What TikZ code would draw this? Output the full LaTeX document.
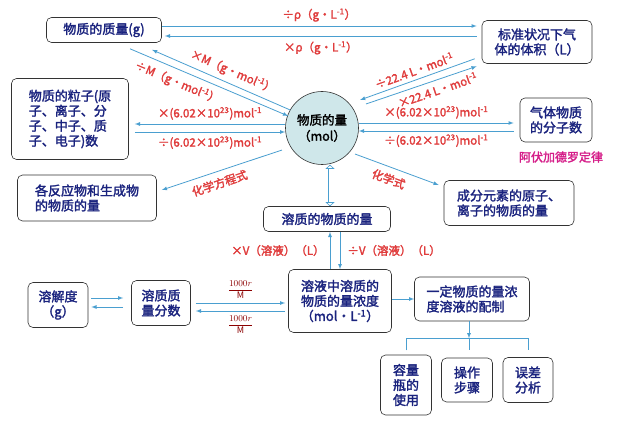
\documentclass[tikz,border=0pt]{standalone}
\usepackage{fontspec}
\setmainfont{Noto Sans CJK SC}[AutoFakeBold=2]
\usetikzlibrary{shapes.geometric,arrows.meta}
\definecolor{navy}{HTML}{1A237E}
\definecolor{lblue}{HTML}{4A9FD0}
\definecolor{lred}{HTML}{E03C3C}
\definecolor{cyanfill}{HTML}{CFE7EA}
\tikzset{
  box/.style={draw=black!80,rounded corners=5pt,semithick,fill=white,text=navy,font=\fontsize{13}{15}\selectfont\bfseries,align=center,inner sep=2pt},
  conn/.style={lblue,thick,-latex},
  lbl/.style={text=lred,font=\fontsize{11.5}{13}\selectfont\bfseries,inner sep=1pt},
  fr/.style={text=red!55!black,font=\fontsize{9}{10}\selectfont,inner sep=1pt}
}
\begin{document}
\begin{tikzpicture}[x=1pt,y=-1pt]
\useasboundingbox[fill=white] (0,0) rectangle (617,422);
% boxes
\node[box,minimum width=115,minimum height=25] (mass) at (104,30) {物质的质量(g)};
\node[box,minimum width=110,minimum height=43] (vol) at (537,42) {标准状况下气\\体的体积（L）};
\node[box,minimum width=117,minimum height=81,align=left] (part) at (70,119) {物质的粒子(原\\子、离子、分\\子、中子、质\\子、电子)数};
\node[draw=black!80,semithick,fill=cyanfill,circle,minimum size=73,inner sep=0pt,text=black,font=\fontsize{12.5}{16}\selectfont\bfseries,align=center] (n) at (322,128) {物质的量\\（mol）};
\node[box,minimum width=72,minimum height=44] (gas) at (556,120) {气体物质\\的分子数};
\node[text=magenta!75!violet,font=\fontsize{12}{14}\selectfont\bfseries] (law) at (561,157) {阿伏加德罗定律};
\node[box,minimum width=139,minimum height=46,align=left] (react) at (87,198) {各反应物和生成物\\的物质的量};
\node[box,minimum width=130,minimum height=45,align=left] (elem) at (509,203) {成分元素的原子、\\离子的物质的量};
\node[box,minimum width=127,minimum height=25] (sol) at (327,219) {溶质的物质的量};
\node[box,minimum width=60,minimum height=45] (sd) at (58,305) {溶解度\\（g）};
\node[box,minimum width=59,minimum height=45] (frac) at (161,303) {溶质质\\量分数};
\node[box,minimum width=103,minimum height=63] (conc) at (340,301) {溶液中溶质的\\物质的量浓度\\（mol·L\textsuperscript{-1}）};
\node[box,minimum width=115,minimum height=44,align=left] (prep) at (472,299) {一定物质的量浓\\度溶液的配制};
\node[box,minimum width=51,minimum height=60] (flask) at (406,385) {容量\\瓶的\\使用};
\node[box,minimum width=51,minimum height=44] (step) at (467,380) {操作\\步骤};
\node[box,minimum width=50,minimum height=45] (err) at (528,380) {误差\\分析};
% mass <-> volume
\draw[conn] ([yshift=4]mass.east) -- ([yshift=4,xshift=-5]mass.east -| vol.west) node[lbl,midway,above=3pt] {÷ρ（g·L\textsuperscript{-1}）};
\draw[conn] ([yshift=-6,xshift=-5]mass.east -| vol.west) -- ([yshift=-6,xshift=3]mass.east) node[lbl,midway,below=4pt] {×ρ（g·L\textsuperscript{-1}）};
% mass <-> n
\draw[conn] ([xshift=26,yshift=-6]mass.south) -- ([xshift=3,yshift=12]n.west) node[lbl,pos=.33,below=5pt,sloped] {÷M（g·mol\textsuperscript{-1}）};
\draw[conn] ([xshift=5,yshift=18]n.west) -- ([xshift=48,yshift=-7]mass.south) node[lbl,pos=.45,above=4pt,sloped] {×M（g·mol\textsuperscript{-1}）};
% n <-> volume
\draw[conn] ([xshift=-7,yshift=5]vol.south west) -- ([xshift=12,yshift=2]n.north east) node[lbl,pos=.5,above=3pt,sloped] {÷22.4 L·mol\textsuperscript{-1}};
\draw[conn] ([xshift=18,yshift=-2]n.north east) -- ([xshift=-5,yshift=-2.5]vol.south west) node[lbl,pos=.62,below=3pt,sloped] {×22.4 L·mol\textsuperscript{-1}};
% particles <-> n
\draw[conn] ([yshift=4]n.west) -- ([yshift=4,xshift=6]n.west -| part.east) node[lbl,midway,above=3pt] {×(6.02×10\textsuperscript{23})mol\textsuperscript{-1}};
\draw[conn] ([yshift=-4,xshift=6]n.west -| part.east) -- ([yshift=-4]n.west) node[lbl,midway,below=3pt] {÷(6.02×10\textsuperscript{23})mol\textsuperscript{-1}};
% n <-> gas
\draw[conn] ([yshift=5]n.east) -- ([yshift=5,xshift=-6]n.east -| gas.west) node[lbl,midway,above=3pt] {×(6.02×10\textsuperscript{23})mol\textsuperscript{-1}};
\draw[conn] ([yshift=-3,xshift=-6]n.east -| gas.west) -- ([yshift=-3]n.east) node[lbl,midway,below=2pt] {÷(6.02×10\textsuperscript{23})mol\textsuperscript{-1}};
% chemical equation / formula
\draw[conn] ([xshift=-14,yshift=4]n.south west) -- ([xshift=5,yshift=8]react.east) node[lbl,pos=.55,below=5pt,sloped] {化学方程式};
\draw[conn] ([xshift=7]n.south east) -- ([xshift=-5,yshift=18]elem.west) node[lbl,pos=.45,below=5pt,sloped] {化学式};
% n <=> solute
\draw[lblue,double,semithick,double distance=3pt,{Triangle[open,length=4pt,width=9pt]}-{Triangle[open,length=4pt,width=9pt]}] ([xshift=8]n.south) -- ([xshift=8]n.south |- sol.north);
% solute <-> concentration
\draw[conn] ([xshift=-10]conc.north) -- ([xshift=-10]conc.north |- sol.south) node[lbl,midway,left=4pt] {×V（溶液）（L）};
\draw[conn] ([xshift=0]conc.north |- sol.south) -- ([xshift=0]conc.north) node[lbl,midway,right=6pt] {÷V（溶液）（L）};
% solubility <-> fraction
\draw[conn] ([xshift=3,yshift=7]sd.east) -- ([xshift=-8,yshift=7]sd.east -| frac.west);
\draw[conn] ([xshift=-8,yshift=-2]sd.east -| frac.west) -- ([xshift=3,yshift=-2]sd.east);
% fraction <-> concentration
\draw[conn] ([xshift=5]frac.east) -- ([xshift=-3]frac.east -| conc.west) node[fr,midway,above=3pt] {$\displaystyle\frac{1000r}{\mathrm{M}}$};
\draw[conn] ([xshift=-3,yshift=-8]frac.east -| conc.west) -- ([xshift=5,yshift=-8]frac.east) node[fr,midway,below=3pt] {$\displaystyle\frac{1000r}{\mathrm{M}}$};
% concentration -> preparation
\draw[conn] ([yshift=2]conc.east) -- ([yshift=2]conc.east -| prep.west);
% preparation tree
\coordinate (fork) at ([xshift=-3,yshift=-17]prep.south);
\draw[conn] ([xshift=-3]prep.south) -- (fork);
\draw[lblue,thick] ([yshift=-12]flask.north |- fork) -- (flask.north |- fork) -- (err.north |- fork) -- ([yshift=-12]err.north |- fork);
\draw[lblue,thick] (fork) -- ([yshift=-12]fork);
\end{tikzpicture}
\end{document}
